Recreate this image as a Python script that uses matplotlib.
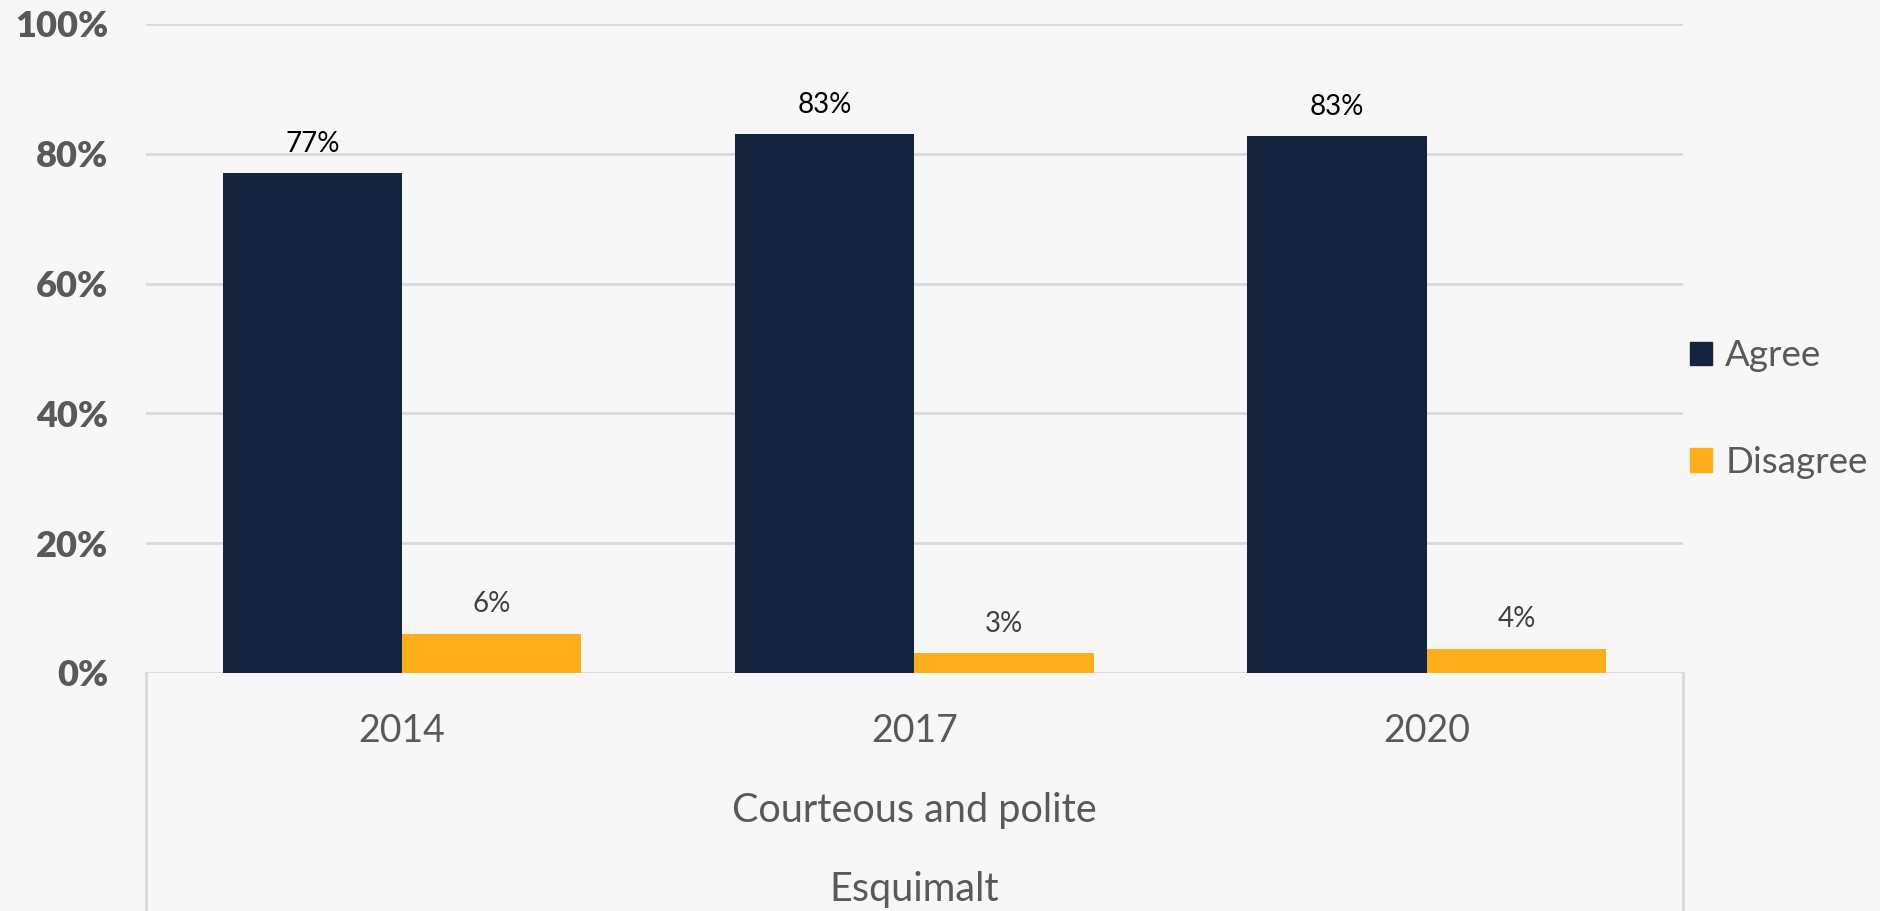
import matplotlib.pyplot as plt
from matplotlib.lines import Line2D
from matplotlib.patches import Patch
import numpy as np

plt.rcParams['font.family'] = ['Lato', 'DejaVu Sans']

years = ["2014", "2017", "2020"]
agree = [0.77, 0.83, 0.827]
disagree = [0.06, 0.03, 0.037]
group_label = "Courteous and polite"
outer_label = "Esquimalt"

navy = "#14243e"
orange = "#fcaf1b"
grey_text = "#595959"
grid_col = "#d9d9d9"
bg = "#f7f7f7"

fig = plt.figure(figsize=(18.81, 9.11), dpi=100, facecolor=bg)
ax = fig.add_axes([0.0776, 0.2613, 0.8171, 0.7124], facecolor=bg)

x = np.arange(len(years))
w = 0.35
b1 = ax.bar(x - w / 2, agree, w, color=navy, zorder=3)
b2 = ax.bar(x + w / 2, disagree, w, color=orange, zorder=3)

for rect, v in zip(b1, agree):
    ax.annotate(f"{round(v * 100):.0f}%", (rect.get_x() + rect.get_width() / 2, v),
                xytext=(0, 12), textcoords="offset points", ha="center", va="bottom",
                fontsize=20, color="black")
for rect, v in zip(b2, disagree):
    ax.annotate(f"{round(v * 100):.0f}%", (rect.get_x() + rect.get_width() / 2, v),
                xytext=(0, 12), textcoords="offset points", ha="center", va="bottom",
                fontsize=20, color="#404040")

ax.set_xlim(-0.5, 2.5)
ax.set_ylim(0, 1.0)
ax.set_yticks(np.arange(0, 1.01, 0.2))
ax.set_yticklabels([f"{int(t * 100)}%" for t in np.arange(0, 1.01, 0.2)],
                   fontsize=26, fontweight="heavy", color=grey_text)
ax.yaxis.grid(True, color=grid_col, linewidth=2, zorder=0)
ax.set_xticks(x)
ax.set_xticklabels(years, fontsize=27, color=grey_text)
ax.tick_params(axis="x", length=0, pad=29)
ax.tick_params(axis="y", length=0, pad=27)
for s in ax.spines.values():
    s.set_visible(False)

# category box lines below the axis
for xa in (0, 1):
    ax.add_line(Line2D([xa, xa], [0, -0.37], transform=ax.transAxes,
                       color=grid_col, linewidth=2, clip_on=False))

ax.text(0.5, -0.212, group_label, transform=ax.transAxes, ha="center", va="center",
        fontsize=28.5, color=grey_text)
ax.text(0.5, -0.334, outer_label, transform=ax.transAxes, ha="center", va="center",
        fontsize=28.5, color=grey_text)

handles = [Patch(color=navy), Patch(color=orange)]
fig.legend(handles, ["Agree", "Disagree"], loc="center left",
           bbox_to_anchor=(0.881, 0.551), frameon=False, fontsize=26.5,
           labelcolor=grey_text, handlelength=0.6, handleheight=0.6,
           handletextpad=0.35, labelspacing=2.0)

fig.savefig("out.png", dpi=100, facecolor=bg)
